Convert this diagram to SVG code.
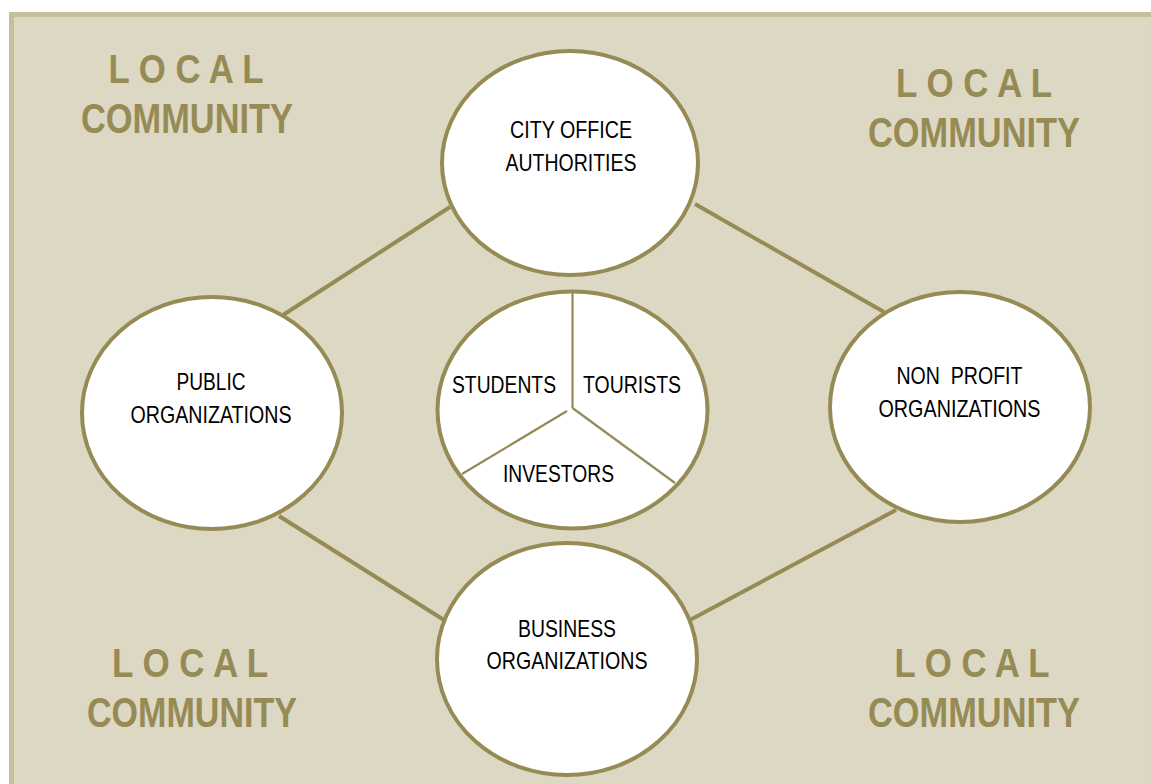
<svg xmlns="http://www.w3.org/2000/svg" width="1151" height="784" viewBox="0 0 1151 784">
<style>
.bg{fill:#ddd8c3}
.bd{fill:none;stroke:#c6bf9c;stroke-width:5}
.node{fill:#ffffff;stroke:#968b55;stroke-width:4}
.edge{stroke:#968b55;stroke-width:4;fill:none}
.div{stroke:#968b55;stroke-width:2.2;fill:none}
.lbl{font-family:"Liberation Sans",Arial,sans-serif;font-size:24px;fill:#000;text-anchor:middle}
.lc{font-family:"Liberation Sans",Arial,sans-serif;font-weight:bold;font-size:42px;fill:#968b55;text-anchor:middle}
.lo{font-size:40px}
</style>
<rect x="0" y="0" width="1151" height="784" fill="#ffffff"/>
<rect class="bg" x="9" y="12" width="1142" height="772"/>
<path class="bd" d="M11.5 784 V14.5 H1151"/>
<g id="local-tl"><text class="lc lo" x="186" y="83" textLength="155" lengthAdjust="spacingAndGlyphs">L O C A L</text><text class="lc" x="187" y="133" textLength="212" lengthAdjust="spacingAndGlyphs">COMMUNITY</text></g>
<g id="local-tr"><text class="lc lo" x="974" y="97" textLength="156" lengthAdjust="spacingAndGlyphs">L O C A L</text><text class="lc" x="974" y="147" textLength="212" lengthAdjust="spacingAndGlyphs">COMMUNITY</text></g>
<g id="local-bl"><text class="lc lo" x="190" y="677" textLength="156" lengthAdjust="spacingAndGlyphs">L O C A L</text><text class="lc" x="192" y="727" textLength="210" lengthAdjust="spacingAndGlyphs">COMMUNITY</text></g>
<g id="local-br"><text class="lc lo" x="972" y="677" textLength="155" lengthAdjust="spacingAndGlyphs">L O C A L</text><text class="lc" x="974" y="727" textLength="212" lengthAdjust="spacingAndGlyphs">COMMUNITY</text></g>
<g id="connectors">
<line class="edge" x1="450" y1="207" x2="283" y2="315"/>
<line class="edge" x1="695" y1="204" x2="884" y2="312"/>
<line class="edge" x1="279" y1="516" x2="444" y2="620"/>
<line class="edge" x1="896" y1="510" x2="690" y2="620"/>
</g>
<g id="city-office"><ellipse class="node" cx="570" cy="163" rx="128" ry="112"/><text class="lbl" x="571" y="138" textLength="122" lengthAdjust="spacingAndGlyphs">CITY OFFICE</text><text class="lbl" x="571" y="171" textLength="131" lengthAdjust="spacingAndGlyphs">AUTHORITIES</text></g>
<g id="public-org"><ellipse class="node" cx="212" cy="413" rx="130" ry="116"/><text class="lbl" x="211" y="390" textLength="69" lengthAdjust="spacingAndGlyphs">PUBLIC</text><text class="lbl" x="211" y="423" textLength="161" lengthAdjust="spacingAndGlyphs">ORGANIZATIONS</text></g>
<g id="nonprofit-org"><ellipse class="node" cx="960" cy="407" rx="130" ry="115"/><text class="lbl" x="959.5" y="384" xml:space="preserve" textLength="126" lengthAdjust="spacingAndGlyphs">NON  PROFIT</text><text class="lbl" x="959.5" y="417" textLength="162" lengthAdjust="spacingAndGlyphs">ORGANIZATIONS</text></g>
<g id="business-org"><ellipse class="node" cx="567" cy="659" rx="130" ry="116"/><text class="lbl" x="567" y="637" textLength="98" lengthAdjust="spacingAndGlyphs">BUSINESS</text><text class="lbl" x="567" y="669" textLength="161" lengthAdjust="spacingAndGlyphs">ORGANIZATIONS</text></g>
<g id="stakeholders"><ellipse class="node" cx="572.5" cy="410" rx="135" ry="118.5"/>
<line class="div" x1="572.5" y1="293" x2="572.5" y2="408"/>
<line class="div" x1="567" y1="411" x2="462" y2="474"/>
<line class="div" x1="572.5" y1="408" x2="675" y2="483"/>
<text class="lbl" x="504" y="393" textLength="104" lengthAdjust="spacingAndGlyphs">STUDENTS</text><text class="lbl" x="632" y="393" textLength="98" lengthAdjust="spacingAndGlyphs">TOURISTS</text><text class="lbl" x="558.5" y="482" textLength="111" lengthAdjust="spacingAndGlyphs">INVESTORS</text></g>
</svg>
